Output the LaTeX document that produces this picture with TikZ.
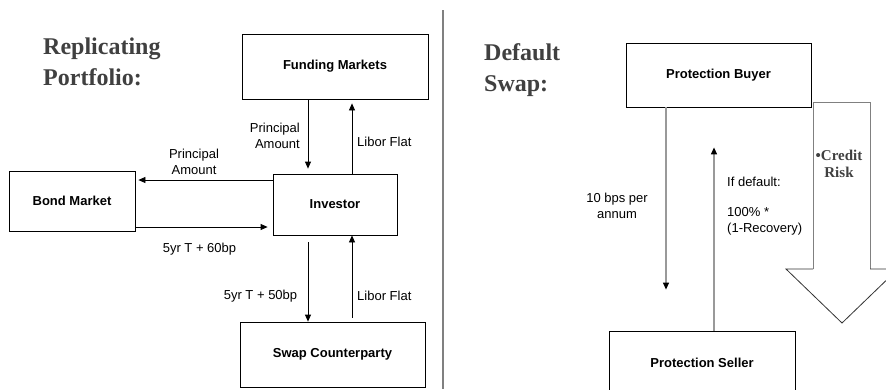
\documentclass[tikz,border=0pt]{standalone}
\usepackage{fontspec}
\setmainfont{Liberation Sans}
\newfontfamily\titlefont{Liberation Serif}
\usetikzlibrary{arrows.meta}
\definecolor{titlegray}{HTML}{404040}
\definecolor{linegray}{HTML}{999999}
\definecolor{divgray}{HTML}{808080}
\begin{document}
\begin{tikzpicture}[x=1pt,y=-1pt,
  box/.style={draw=black, line width=0.8pt, fill=white, inner sep=0pt,
    font=\fontsize{13}{16}\selectfont\bfseries},
  lbl/.style={inner sep=0pt, font=\fontsize{13}{16}\selectfont},
  ttl/.style={inner sep=0pt, align=left, text=titlegray,
    font=\fontsize{24}{31}\titlefont\bfseries},
  arr/.style={draw=black, line width=0.8pt, -{Triangle[length=7pt,width=6pt]}},
  garr/.style={draw=linegray, line width=1.2pt, -{Triangle[length=7pt,width=6pt,color=black]}},
]
\useasboundingbox (0,0) rectangle (886,389);
\clip (0,0) rectangle (886,389);
\fill[white] (0,0) rectangle (886,389);

% divider
\draw[divgray, line width=2pt] (443,10) -- (443,389);

% titles (base anchor = baseline of last line)
\node[ttl, anchor=base west] (t1) at (43,85) {Replicating\\Portfolio:};
\node[ttl, anchor=base west] (t2) at (484,91) {Default\\Swap:};

% left boxes
\node[box, minimum width=186pt, minimum height=65pt] (fm) at (335,66.5) {Funding Markets};
\node[box, minimum width=124pt, minimum height=61pt] (inv) at (335,204.5) {Investor};
\node[box, minimum width=126pt, minimum height=60pt] (bm) at (72,201) {Bond Market};
\node[box, minimum width=185pt, minimum height=65pt] (sc) at (332.5,354.5) {Swap Counterparty};

% helper coordinates
\coordinate (x308) at (308,0);
\coordinate (x352) at (352,0);
\coordinate (y180) at (0,180);
\coordinate (y227) at (0,227);
\coordinate (x666) at (666,0);
\coordinate (x714) at (714,0);

% left arrows
\draw[arr, shorten >=5pt] (fm.south -| x308) -- (inv.north -| x308);
\draw[arr, shorten >=4pt] (inv.north -| x352) -- (fm.south -| x352);
\draw[arr, shorten >=3pt] (inv.west |- y180) -- (bm.east |- y180);
\draw[arr, shorten >=5pt] (bm.east |- y227) -- (inv.west |- y227);
\draw[arr, shorten <=7pt] (inv.south -| x308) -- (sc.north -| x308);
\draw[arr, shorten <=4pt] (sc.north -| x352) -- (inv.south -| x352);

% left labels
\node[lbl, anchor=east, align=right] (l1) at (300,136) {Principal\\Amount};
\node[lbl, anchor=west] (l2) at (357,142) {Libor Flat};
\node[lbl, align=center] (l3) at (194,161.5) {Principal\\Amount};
\node[lbl] (l4) at (199.5,249) {5yr T + 60bp};
\node[lbl] (l5) at (260.5,296) {5yr T + 50bp};
\node[lbl, anchor=west] (l6) at (357,296) {Libor Flat};

% right boxes
\node[box, minimum width=185pt, minimum height=64pt] (pb) at (718.5,75) {Protection Buyer};
\node[box, minimum width=186pt, minimum height=64pt] (ps) at (702,363) {Protection Seller};

% right arrows
\draw[garr, shorten >=41pt] (pb.south -| x666) -- (ps.north -| x666);
\draw[garr, shorten >=40pt] (ps.north -| x714) -- (pb.south -| x714);

% right labels
\node[lbl, align=center] (r1) at (617,206) {10 bps per\\annum};
\node[lbl, anchor=north west, align=left] (r2) at (727,177) {If default:\\[14pt]100\% *\\(1-Recovery)};

% big hollow arrow
\fill[white] (813,102) -- (870,102) -- (870,269) -- (898,269) -- (842,323) -- (786,269) -- (813,269) -- cycle;
\draw[divgray, line width=1pt] (813,269) -- (813,102) -- (870,102) -- (870,269);
\draw[black!80, line width=0.8pt] (870,269) -- (898,269) -- (842,323) -- (786,269) -- (813,269);
\node[inner sep=0pt, align=center, text=titlegray, font=\fontsize{15}{17}\titlefont\bfseries] (cr) at (839,164) {\textbullet Credit\\Risk};
\end{tikzpicture}
\end{document}
